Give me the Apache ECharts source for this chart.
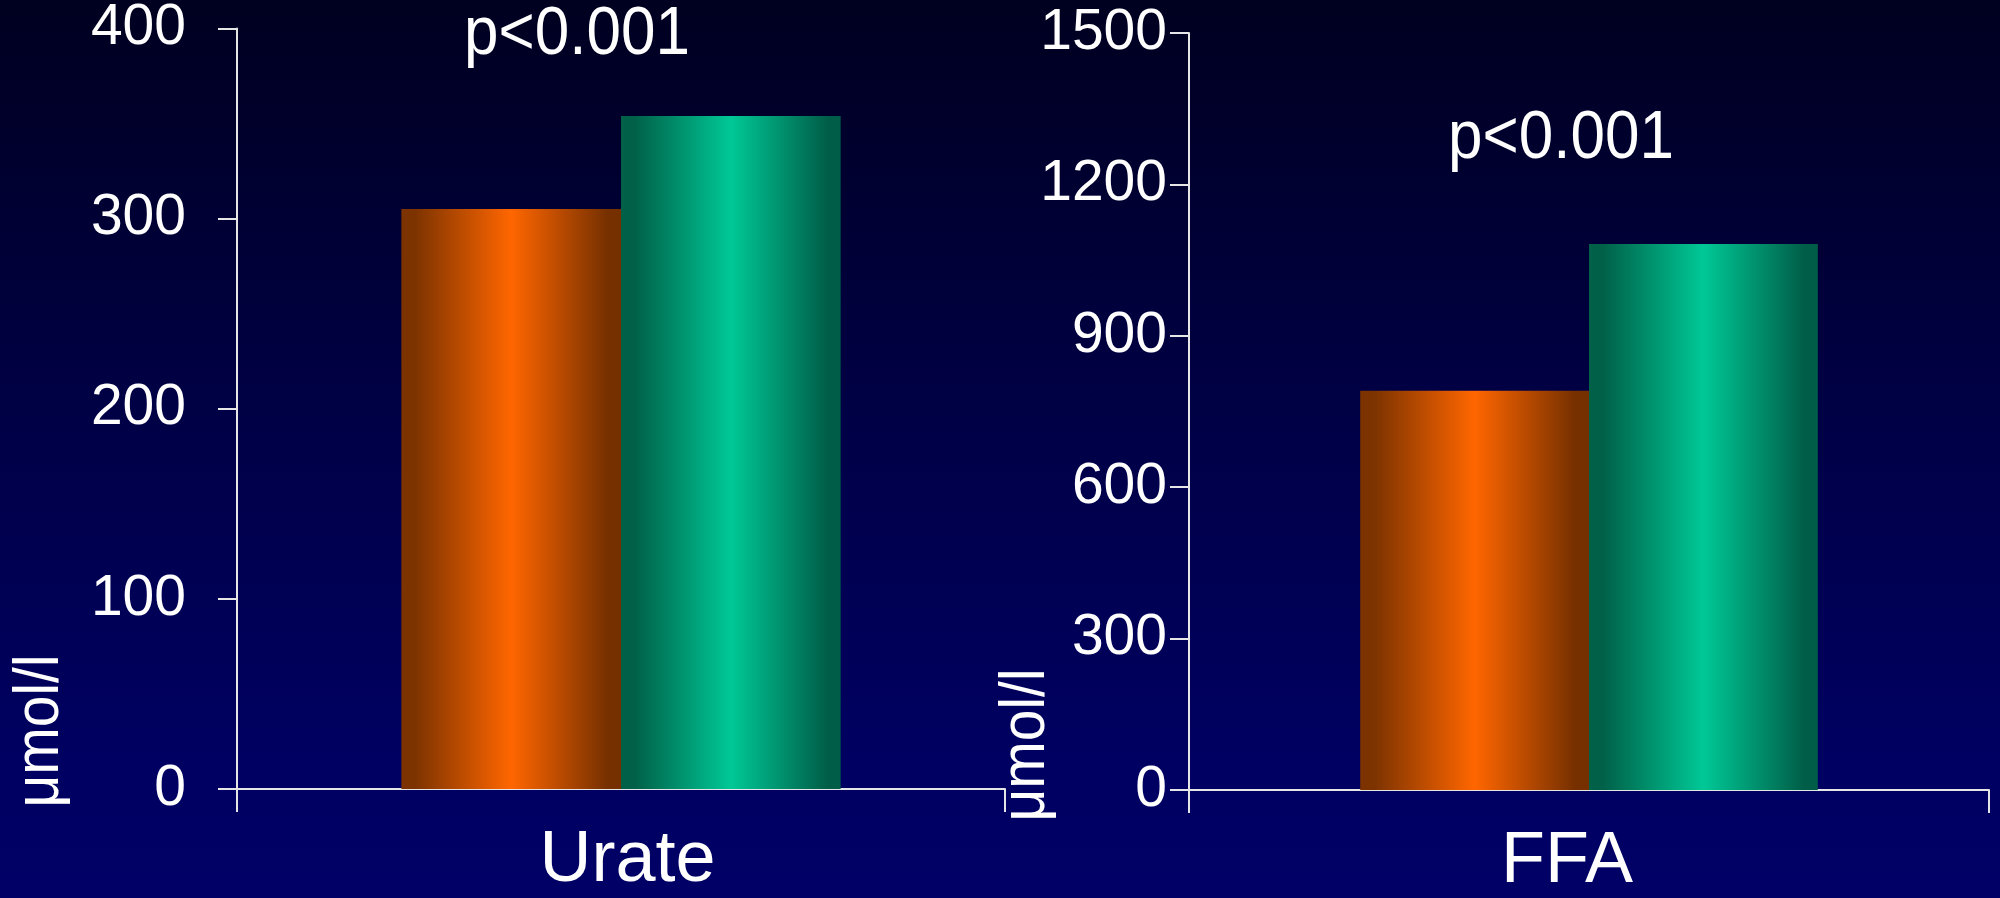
<!DOCTYPE html>
<html lang="en">
<head>
	<meta charset="UTF-8">
	<title>Urate / FFA</title>
	<style>
	body, div {
		margin: 0;
		padding: 0;
	}
	#echart {
		width: 2000px;
		height: 898px;
	}
	</style>
</head>
<body>
	<div id="echart"></div>

	<script src="https://cdn.jsdelivr.net/npm/echarts@6/dist/echarts.min.js"></script>

	<script>
	// data
	var categories = ['Urate', 'FFA'];
	var groupA = [305, 791];     // orange bars
	var groupB = [354, 1082];    // green bars
	var axisMax = [400, 1500];
	var axisStep = [100, 300];
	var unitName = 'μmol/l';
	var pText = ['p<0.001', 'p<0.001'];

	var font = '"Liberation Sans", Arial, sans-serif';

	function barFill(dark1, bright, dark2) {
		return {
			type: 'linear', x: 0, y: 0, x2: 1, y2: 0,
			colorStops: [
				{ offset: 0, color: dark1 },
				{ offset: 0.06, color: dark1 },
				{ offset: 0.5, color: bright },
				{ offset: 0.94, color: dark2 },
				{ offset: 1, color: dark2 }
			]
		};
	}
	var orangeFill = barFill('#7c3300', '#ff6600', '#763000');
	var greenFill = barFill('#006048', '#00c896', '#005e48');

	var lineStyle = { color: '#e6e6e6', width: 2 };

	function yAxis(i, margin) {
		return {
			type: 'value',
			gridIndex: i,
			min: 0,
			max: axisMax[i],
			interval: axisStep[i],
			axisLine: { show: true, lineStyle: lineStyle },
			axisTick: { show: true, length: 19, lineStyle: lineStyle },
			splitLine: { show: false },
			axisLabel: {
				color: '#ffffff',
				fontFamily: font,
				fontSize: 57,
				margin: margin,
				padding: [22, 0, 0, 0],
				formatter: function (v) { return String(v); }
			}
		};
	}

	function xAxis(i, pad) {
		return {
			type: 'category',
			gridIndex: i,
			data: [categories[i]],
			axisLine: { show: true, lineStyle: lineStyle },
			axisTick: { show: true, length: 23, lineStyle: lineStyle },
			axisLabel: {
				color: '#ffffff',
				fontFamily: font,
				fontSize: 72,
				margin: 36,
				padding: pad
			}
		};
	}

	function bar(i, values, fill) {
		return {
			type: 'bar',
			xAxisIndex: i,
			yAxisIndex: i,
			data: [values[i]],
			barWidth: '28.6%',
			barGap: '0%',
			itemStyle: { color: fill },
			silent: true
		};
	}

	// free texts, drawn a little taller than wide like the slide
	function note(text, x, y, size, rot) {
		return {
			type: 'text', silent: true,
			x: x, y: y, rotation: rot || 0, scaleY: 1.12,
			style: { text: text, fill: '#ffffff', font: size + 'px ' + font, align: 'center', verticalAlign: 'middle' }
		};
	}

	var myEchart = echarts.init(document.getElementById('echart'));

	var option = {
		animation: false,
		backgroundColor: {
			type: 'linear', x: 0, y: 0, x2: 0, y2: 1,
			colorStops: [
				{ offset: 0, color: '#000020' },
				{ offset: 0.45, color: '#000045' },
				{ offset: 0.85, color: '#000062' },
				{ offset: 1, color: '#000066' }
			]
		},
		grid: [
			{ left: 237, top: 25, width: 768, height: 764 },
			{ left: 1189, top: 33, width: 800, height: 764 }
		],
		xAxis: [xAxis(0, [0, 0, 0, 13]), xAxis(1, [0, 44, 0, 0])],
		yAxis: [yAxis(0, 51), yAxis(1, 22)],
		series: [
			bar(0, groupA, orangeFill),
			bar(0, groupB, greenFill),
			bar(1, groupA, orangeFill),
			bar(1, groupB, greenFill)
		],
		graphic: [
			note(pText[0], 577, 35, 62),
			note(pText[1], 1561, 139, 62),
			note(unitName, 40, 731, 57, Math.PI / 2),
			note(unitName, 1026, 745, 57, Math.PI / 2)
		]
	};

	myEchart.setOption(option);
	</script>
</body>
</html>
